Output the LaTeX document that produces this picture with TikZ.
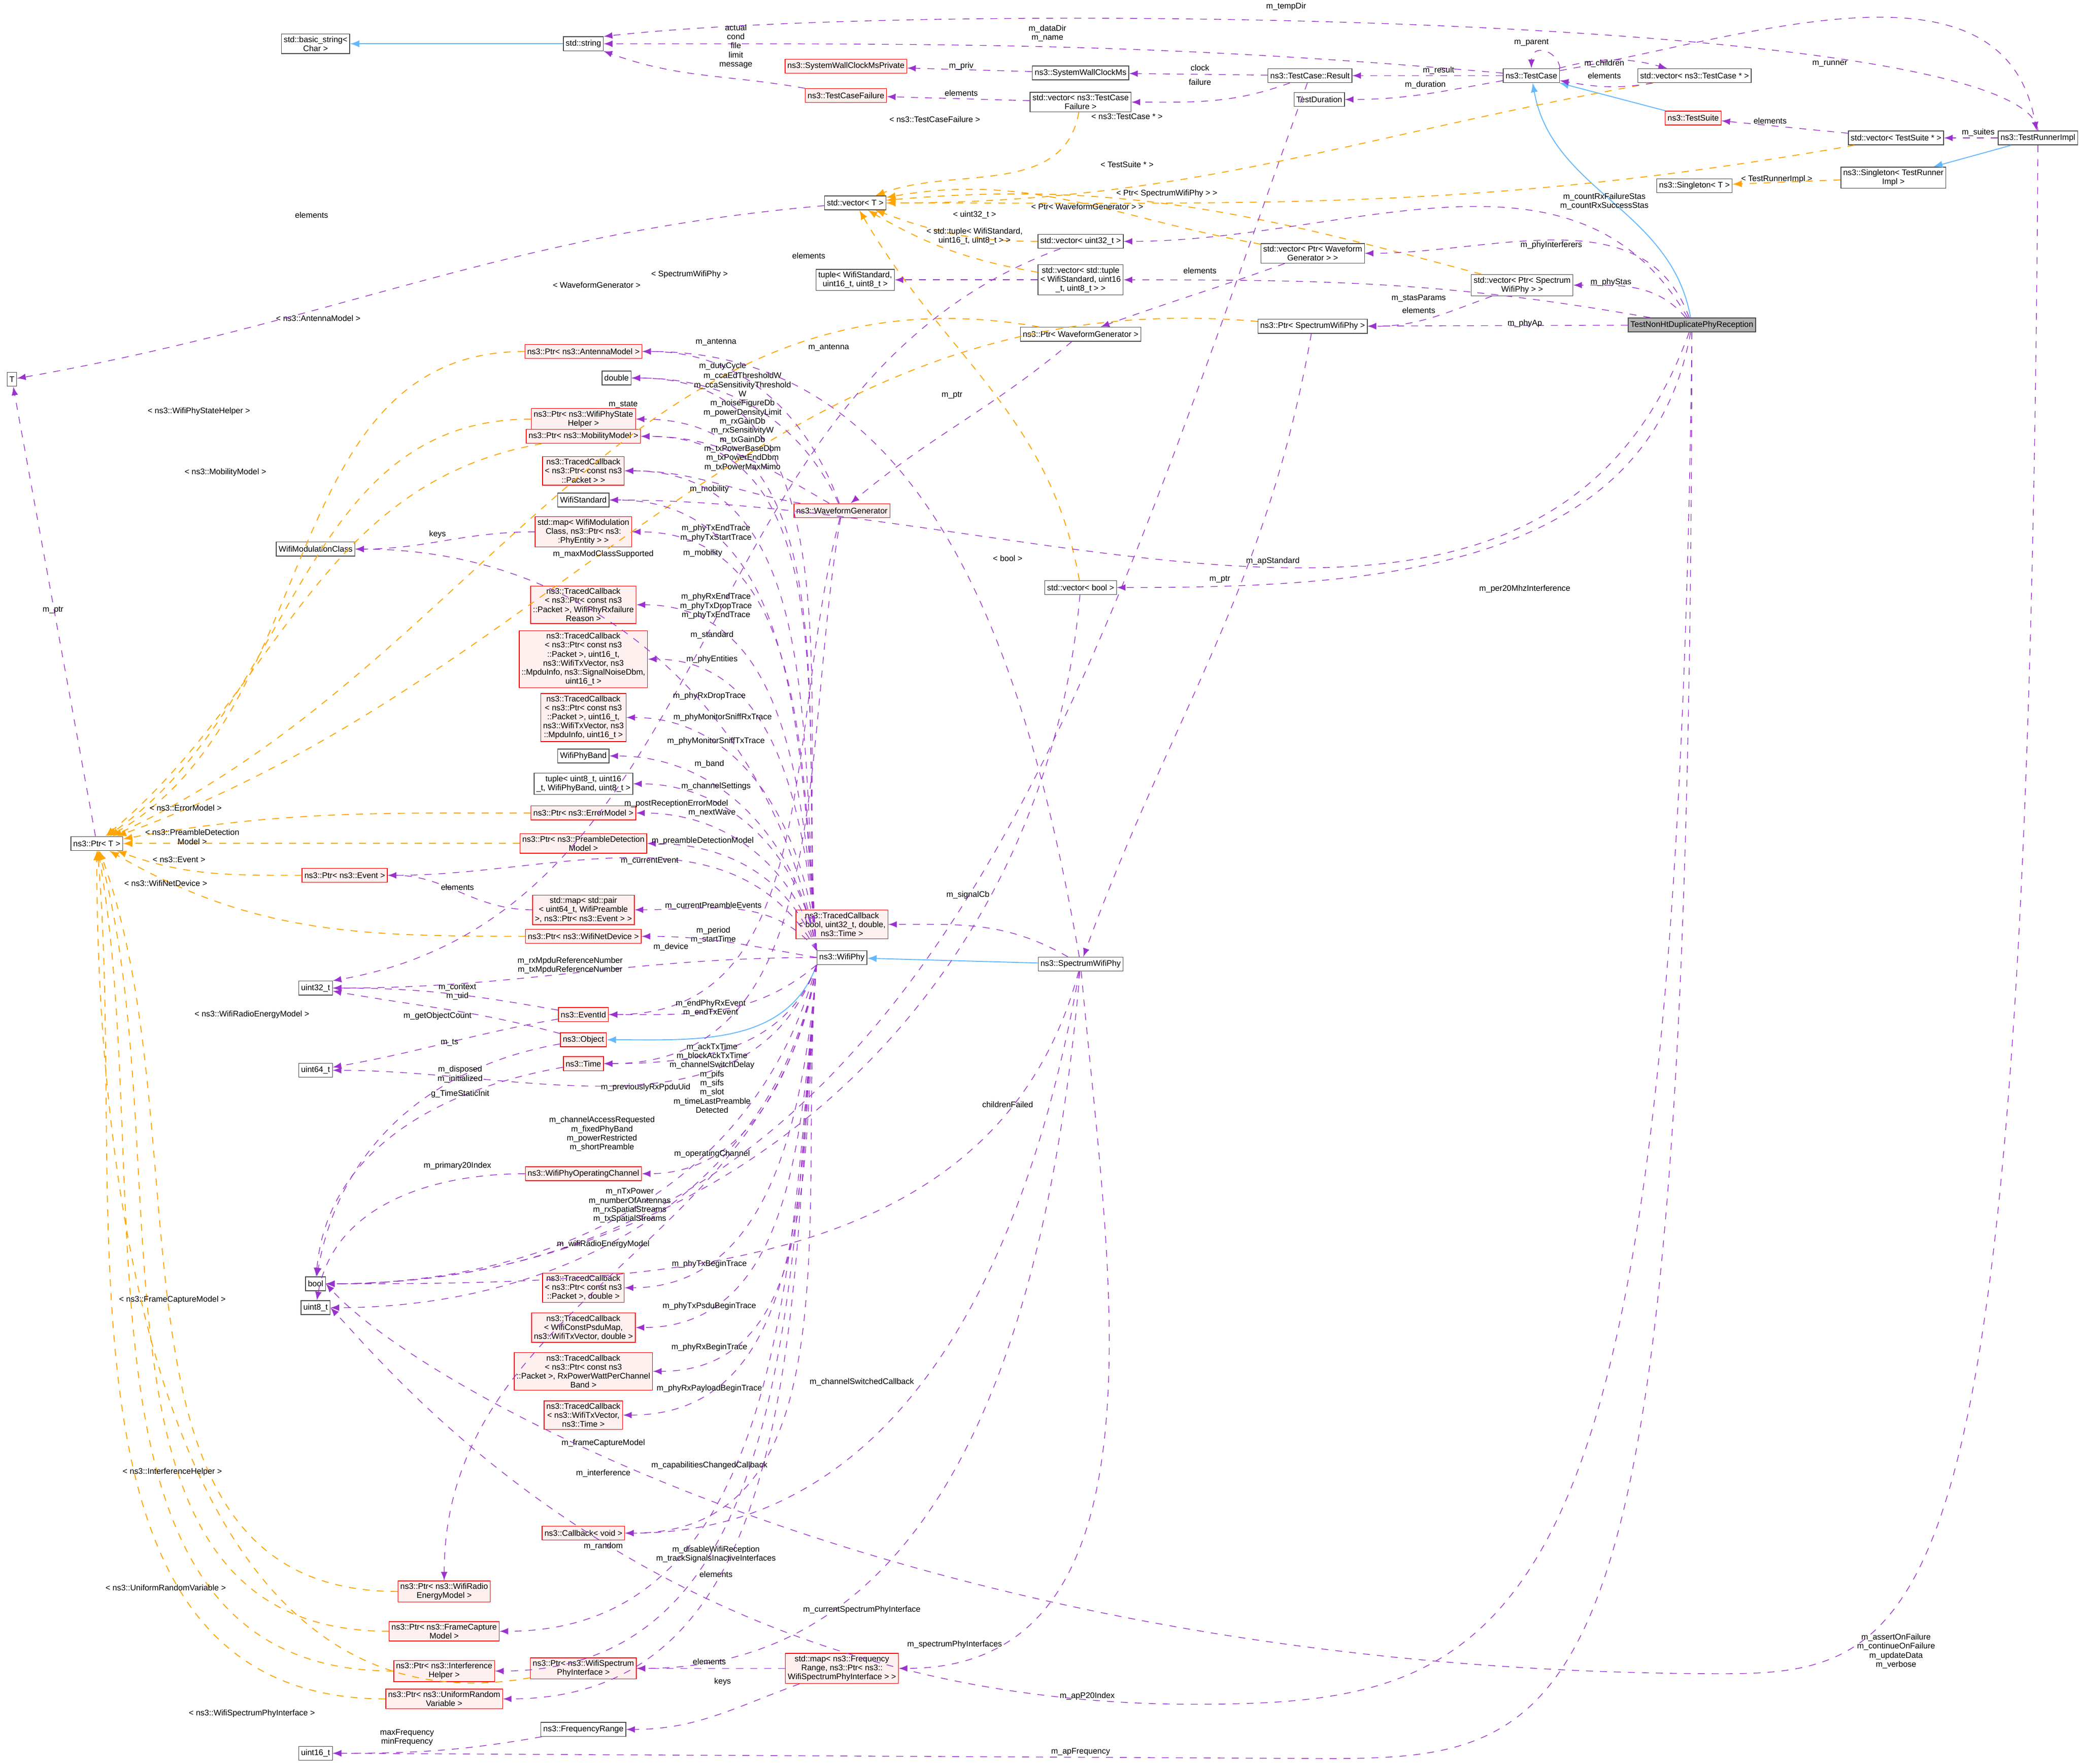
\documentclass[tikz,border=0pt]{standalone}
\usepackage{fontspec}
\setmainfont{Liberation Sans}
\usetikzlibrary{arrows,positioning}
\definecolor{memcol}{HTML}{9A32CD}
\definecolor{tplcol}{HTML}{FFA500}
\definecolor{inhcol}{HTML}{63B8FF}
\tikzset{
  cls/.style={draw=gray!60!black,fill=white,font=\fontsize{3.5}{3.85}\selectfont,align=center,inner sep=1pt,line width=0.3pt,minimum height=6pt},
  undoc/.style={cls,draw=red,fill=red!6},
  focus/.style={cls,fill=gray!60},
  mem/.style={->,dashed,memcol,line width=0.3pt},
  tpl/.style={->,dashed,tplcol,line width=0.4pt},
  inh/.style={->,inhcol,line width=0.4pt},
  lbl/.style={font=\fontsize{3.5}{3.9}\selectfont,align=center,text=black,inner sep=0.3pt}
}
\begin{document}
\begin{tikzpicture}[x=0.02cm,y=-0.02cm,>=latex]
\useasboundingbox[fill=white] (0,0) rectangle (1568,1330);
% test framework
\node[cls] (basicstr) at (238,33) {std::basic\_string<\\Char >};
\node[cls] (string) at (440,33) {std::string};
\node[cls] (T) at (9,286) {T};
\node[cls] (ptrT) at (73,636) {ns3::Ptr< T >};
\node[cls] (vectorT) at (645,153) {std::vector< T >};
\node[undoc] (syswallpriv) at (638,50) {ns3::SystemWallClockMsPrivate};
\node[cls] (syswall) at (815,55) {ns3::SystemWallClockMs};
\node[undoc] (tcfailure) at (638,72) {ns3::TestCaseFailure};
\node[cls] (vectcf) at (815,77) {std::vector< ns3::TestCase\\Failure >};
\node[cls] (result) at (988,57) {ns3::TestCase::Result};
\node[cls] (duration) at (995,75) {TestDuration};
\node[cls] (testcase) at (1155,57) {ns3::TestCase};
\node[cls] (vectcptr) at (1278,57) {std::vector< ns3::TestCase * >};
\node[undoc] (testsuite) at (1277,89) {ns3::TestSuite};
\node[cls] (vects) at (1430,104) {std::vector< TestSuite * >};
\node[cls] (runner) at (1537,104) {ns3::TestRunnerImpl};
\node[cls] (singletonT) at (1278,140) {ns3::Singleton< T >};
\node[cls] (singletonR) at (1428,134) {ns3::Singleton< TestRunner\\Impl >};
% test
\node[cls] (vecu32) at (815,182) {std::vector< uint32\_t >};
\node[cls] (vectuple) at (815,211) {std::vector< std::tuple\\< WifiStandard, uint16\\\_t, uint8\_t > >};
\node[cls] (tuplestd) at (645,211) {tuple< WifiStandard,\\uint16\_t, uint8\_t >};
\node[cls] (vecwg) at (990,191) {std::vector< Ptr< Waveform\\Generator > >};
\node[cls] (vecswp) at (1148,215) {std::vector< Ptr< Spectrum\\WifiPhy > >};
\node[cls] (ptrswp) at (990,246) {ns3::Ptr< SpectrumWifiPhy >};
\node[cls] (ptrwg) at (815,252) {ns3::Ptr< WaveformGenerator >};
\node[focus] (test) at (1276,245) {TestNonHtDuplicatePhyReception};
% wifi phy members
\node[undoc] (ptrantenna) at (440,265) {ns3::Ptr< ns3::AntennaModel >};
\node[cls] (double) at (465,285) {double};
\node[undoc] (ptrstate) at (440,316) {ns3::Ptr< ns3::WifiPhyState\\Helper >};
\node[undoc] (ptrmob) at (440,329) {ns3::Ptr< ns3::MobilityModel >};
\node[undoc] (tcbpkt) at (440,355) {ns3::TracedCallback\\< ns3::Ptr< const ns3\\::Packet > >};
\node[cls] (standard) at (440,377) {WifiStandard};
\node[undoc] (wavegen) at (635,385) {ns3::WaveformGenerator};
\node[undoc] (mapmod) at (440,401) {std::map< WifiModulation\\Class, ns3::Ptr< ns3:\\:PhyEntity > >};
\node[cls] (modclass) at (238,414) {WifiModulationClass};
\node[cls] (vecbool) at (815,443) {std::vector< bool >};
\node[undoc] (tcbfail) at (440,456) {ns3::TracedCallback\\< ns3::Ptr< const ns3\\::Packet >, WifiPhyRxfailure\\Reason >};
\node[undoc] (tcbrx) at (440,497) {ns3::TracedCallback\\< ns3::Ptr< const ns3\\::Packet >, uint16\_t,\\ns3::WifiTxVector, ns3\\::MpduInfo, ns3::SignalNoiseDbm,\\uint16\_t >};
\node[undoc] (tcbtx) at (440,541) {ns3::TracedCallback\\< ns3::Ptr< const ns3\\::Packet >, uint16\_t,\\ns3::WifiTxVector, ns3\\::MpduInfo, uint16\_t >};
\node[cls] (band) at (440,570) {WifiPhyBand};
\node[cls] (tuplech) at (440,591) {tuple< uint8\_t, uint16\\\_t, WifiPhyBand, uint8\_t >};
\node[undoc] (ptrerr) at (440,613) {ns3::Ptr< ns3::ErrorModel >};
\node[undoc] (ptrpre) at (440,636) {ns3::Ptr< ns3::PreambleDetection\\Model >};
\node[undoc] (ptrevent) at (260,660) {ns3::Ptr< ns3::Event >};
\node[undoc] (mappair) at (440,686) {std::map< std::pair\\< uint64\_t, WifiPreamble\\ >, ns3::Ptr< ns3::Event > >};
\node[undoc] (ptrdev) at (440,706) {ns3::Ptr< ns3::WifiNetDevice >};
\node[undoc] (tcbsig) at (635,697) {ns3::TracedCallback\\< bool, uint32\_t, double,\\ns3::Time >};
\node[cls] (wifiphy) at (635,722) {ns3::WifiPhy};
\node[cls] (spectrum) at (815,727) {ns3::SpectrumWifiPhy};
\node[cls] (uint32) at (238,745) {uint32\_t};
\node[undoc] (eventid) at (440,765) {ns3::EventId};
\node[undoc] (object) at (440,784) {ns3::Object};
\node[cls] (uint64) at (238,807) {uint64\_t};
\node[undoc] (time) at (440,802) {ns3::Time};
\node[undoc] (opchannel) at (440,885) {ns3::WifiPhyOperatingChannel};
\node[cls] (bool) at (238,968) {bool};
\node[cls] (uint8) at (238,986) {uint8\_t};
\node[undoc] (tcbtxbegin) at (440,971) {ns3::TracedCallback\\< ns3::Ptr< const ns3\\::Packet >, double >};
\node[undoc] (tcbpsdu) at (440,1001) {ns3::TracedCallback\\< WifiConstPsduMap,\\ns3::WifiTxVector, double >};
\node[undoc] (tcbrxbegin) at (440,1034) {ns3::TracedCallback\\< ns3::Ptr< const ns3\\::Packet >, RxPowerWattPerChannel\\Band >};
\node[undoc] (tcbpayload) at (440,1067) {ns3::TracedCallback\\< ns3::WifiTxVector,\\ns3::Time >};
\node[undoc] (callback) at (440,1156) {ns3::Callback< void >};
\node[undoc] (ptrenergy) at (335,1200) {ns3::Ptr< ns3::WifiRadio\\EnergyModel >};
\node[undoc] (ptrcapture) at (335,1230) {ns3::Ptr< ns3::FrameCapture\\Model >};
\node[undoc] (ptrinterf) at (335,1260) {ns3::Ptr< ns3::Interference\\Helper >};
\node[undoc] (ptrrandom) at (335,1281) {ns3::Ptr< ns3::UniformRandom\\Variable >};
\node[undoc] (ptrspi) at (440,1258) {ns3::Ptr< ns3::WifiSpectrum\\PhyInterface >};
\node[undoc] (mapfreq) at (635,1258) {std::map< ns3::Frequency\\Range, ns3::Ptr< ns3::\\WifiSpectrumPhyInterface > >};
\node[cls] (freqrange) at (440,1304) {ns3::FrequencyRange};
\node[cls] (uint16) at (238,1322) {uint16\_t};

% inheritance
\draw[inh] (string) -- (basicstr);
\draw[inh] (wifiphy.south west) to[out=250,in=0] (object);
\draw[inh] (spectrum) -- (wifiphy);
\draw[inh] (test) to[out=100,in=280] (testcase);
\draw[inh] (testsuite) -- (testcase);
\draw[inh] (runner) -- (singletonR);

% templates
\draw[tpl] (vectcptr) to[out=190,in=0] (vectorT);
\draw[tpl] (vects) to[out=190,in=0] (vectorT);
\draw[tpl] (singletonR) -- (singletonT);
\draw[tpl] (vectcf) to[out=260,in=20] (vectorT);
\draw[tpl] (vecu32) to[out=180,in=340] (vectorT);
\draw[tpl] (vectuple) to[out=170,in=330] (vectorT);
\draw[tpl] (vecwg) to[out=170,in=10] (vectorT);
\draw[tpl] (vecswp) to[out=165,in=5] (vectorT);
\draw[tpl] (vecbool) to[out=100,in=300] (vectorT);
\draw[tpl] (ptrswp) to[out=175,in=20] (ptrT);
\draw[tpl] (ptrwg) to[out=170,in=25] (ptrT);
\draw[tpl] (ptrantenna) to[out=180,in=30] (ptrT);
\draw[tpl] (ptrstate) to[out=180,in=35] (ptrT);
\draw[tpl] (ptrmob) to[out=190,in=40] (ptrT);
\draw[tpl] (ptrerr) to[out=180,in=10] (ptrT);
\draw[tpl] (ptrpre) to[out=180,in=0] (ptrT);
\draw[tpl] (ptrevent) to[out=180,in=340] (ptrT);
\draw[tpl] (ptrdev) to[out=180,in=330] (ptrT);
\draw[tpl] (ptrenergy) to[out=180,in=290] (ptrT);
\draw[tpl] (ptrcapture) to[out=180,in=285] (ptrT);
\draw[tpl] (ptrinterf) to[out=180,in=280] (ptrT);
\draw[tpl] (ptrrandom) to[out=180,in=275] (ptrT);
\draw[tpl] (ptrspi) to[out=190,in=270] (ptrT);
\node[lbl] at (850,88) {< ns3::TestCase * >};
\node[lbl] at (850,124) {< TestSuite * >};
\node[lbl] at (1340,135) {< TestRunnerImpl >};
\node[lbl] at (705,90) {< ns3::TestCaseFailure >};
\node[lbl] at (735,162) {< uint32\_t >};
\node[lbl] at (735,178) {< std::tuple< WifiStandard,\\uint16\_t, uint8\_t > >};
\node[lbl] at (820,156) {< Ptr< WaveformGenerator > >};
\node[lbl] at (880,146) {< Ptr< SpectrumWifiPhy > >};
\node[lbl] at (760,421) {< bool >};
\node[lbl] at (520,207) {< SpectrumWifiPhy >};
\node[lbl] at (450,215) {< WaveformGenerator >};
\node[lbl] at (240,240) {< ns3::AntennaModel >};
\node[lbl] at (150,310) {< ns3::WifiPhyStateHelper >};
\node[lbl] at (170,356) {< ns3::MobilityModel >};
\node[lbl] at (140,609) {< ns3::ErrorModel >};
\node[lbl] at (145,631) {< ns3::PreambleDetection\\Model >};
\node[lbl] at (135,648) {< ns3::Event >};
\node[lbl] at (125,666) {< ns3::WifiNetDevice >};
\node[lbl] at (190,765) {< ns3::WifiRadioEnergyModel >};
\node[lbl] at (130,980) {< ns3::FrameCaptureModel >};
\node[lbl] at (130,1110) {< ns3::InterferenceHelper >};
\node[lbl] at (125,1197) {< ns3::UniformRandomVariable >};
\node[lbl] at (190,1292) {< ns3::WifiSpectrumPhyInterface >};

% members of the test framework
\draw[mem] (vectorT) to[out=185,in=10] (T);
\draw[mem] (ptrT) -- (T);
\draw[mem] (tcfailure) to[out=170,in=340] (string);
\draw[mem] (testcase) to[out=175,in=0] (string);
\draw[mem] (runner.north) .. controls (1530,10) and (700,0) .. (string.north east);
\draw[mem] (syswall) -- (syswallpriv);
\draw[mem] (result) -- (syswall);
\draw[mem] (result) to[out=200,in=0] (vectcf);
\draw[mem] (vectcf) -- (tcfailure);
\draw[mem] (testcase) -- (result);
\draw[mem] (testcase) to[out=190,in=0] (duration);
\draw[mem] (testcase.north east) .. controls (1175,38) and (1155,32) .. (testcase.north);
\draw[mem] (testcase) to[out=15,in=165] (vectcptr);
\draw[mem] (vectcptr) to[out=190,in=350] (testcase);
\draw[mem] (testcase) to[out=10,in=100] (runner);
\draw[mem] (vects) -- (testsuite);
\draw[mem] (runner) -- (vects);
\draw[mem] (result) to[out=250,in=0] (bool);
\draw[mem] (runner.south) .. controls (1530,1220) and (1460,1262) .. (1300,1262) .. controls (700,1262) and (320,1050) .. (bool.east);
\node[lbl] at (970,5) {m\_tempDir};
\node[lbl] at (790,25) {m\_dataDir\\m\_name};
\node[lbl] at (1155,32) {m\_parent};
\node[lbl] at (1210,48) {m\_children};
\node[lbl] at (1210,57) {elements};
\node[lbl] at (1380,48) {m\_runner};
\node[lbl] at (1085,53) {m\_result};
\node[lbl] at (1075,64) {m\_duration};
\node[lbl] at (725,50) {m\_priv};
\node[lbl] at (905,51) {clock};
\node[lbl] at (905,62) {failure};
\node[lbl] at (725,70) {elements};
\node[lbl] at (555,35) {actual\\cond\\file\\limit\\message};
\node[lbl] at (1492,100) {m\_suites};
\node[lbl] at (1335,91) {elements};
\node[lbl] at (235,162) {elements};
\node[lbl] at (40,460) {m\_ptr};
\node[lbl] at (760,833) {childrenFailed};
\node[lbl] at (1430,1245) {m\_assertOnFailure\\m\_continueOnFailure\\m\_updateData\\m\_verbose};

% members of the test
\draw[mem] (vecu32) to[out=200,in=10] (uint32.north east);
\draw[mem] (vectuple) -- (tuplestd);
\draw[mem] (test) to[out=120,in=0] (vecu32);
\draw[mem] (test) to[out=110,in=0] (vecwg);
\draw[mem] (test) to[out=170,in=0] (vectuple);
\draw[mem] (test) to[out=130,in=0] (vecswp);
\draw[mem] (test) -- (ptrswp);
\draw[mem] (test) to[out=250,in=0] (standard);
\draw[mem] (test) to[out=260,in=0] (vecbool);
\draw[mem] (test.south) .. controls (1265,1240) and (1150,1285) .. (900,1285) .. controls (500,1285) and (300,1040) .. (uint8.east);
\draw[mem] (test.south) .. controls (1275,1300) and (1200,1326) .. (1000,1326) -- (uint16.east);
\draw[mem] (vecwg) to[out=200,in=20] (ptrwg);
\draw[mem] (vecswp) to[out=200,in=0] (ptrswp);
\draw[mem] (ptrswp) to[out=260,in=70] (spectrum);
\draw[mem] (ptrwg) to[out=220,in=40] (wavegen);
\draw[mem] (vecbool) to[out=265,in=0] (bool);
\node[lbl] at (610,193) {elements};
\node[lbl] at (1210,152) {m\_countRxFailureStas\\m\_countRxSuccessStas};
\node[lbl] at (1170,185) {m\_phyInterferers};
\node[lbl] at (1070,225) {m\_stasParams};
\node[lbl] at (1215,213) {m\_phyStas};
\node[lbl] at (1150,244) {m\_phyAp};
\node[lbl] at (960,423) {m\_apStandard};
\node[lbl] at (1150,444) {m\_per20MhzInterference};
\node[lbl] at (820,1279) {m\_apP20Index};
\node[lbl] at (815,1321) {m\_apFrequency};
\node[lbl] at (905,204) {elements};
\node[lbl] at (1070,234) {elements};
\node[lbl] at (920,437) {m\_ptr};
\node[lbl] at (718,298) {m\_ptr};
\node[lbl] at (540,1187) {elements};

% members of the waveform generator
\draw[mem] (wavegen) to[out=110,in=0] (ptrantenna);
\draw[mem] (wavegen) to[out=115,in=0] (double);
\draw[mem] (wavegen) to[out=150,in=0] (ptrmob);
\draw[mem] (wavegen) to[out=170,in=0] (tcbpkt);
\draw[mem] (wavegen) to[out=260,in=0] (time);
\draw[mem] (wavegen) to[out=255,in=0] (eventid);
\node[lbl] at (540,258) {m\_antenna};
\node[lbl] at (545,276) {m\_dutyCycle};
\node[lbl] at (535,369) {m\_mobility};
\node[lbl] at (540,402) {m\_phyTxEndTrace\\m\_phyTxStartTrace};
\node[lbl] at (538,705) {m\_period\\m\_startTime};
\node[lbl] at (537,613) {m\_nextWave};

% members of the wifi phy
\draw[mem] (wifiphy.north west) to[out=95,in=0] (double);
\draw[mem] (wifiphy.north west) to[out=95,in=0] (ptrstate);
\draw[mem] (wifiphy.north west) to[out=95,in=0] (ptrmob);
\draw[mem] (wifiphy.north west) to[out=95,in=0] (tcbpkt);
\draw[mem] (wifiphy.north west) to[out=95,in=0] (standard);
\draw[mem] (wifiphy.north west) to[out=95,in=0] (mapmod);
\draw[mem] (wifiphy.north west) to[out=95,in=0] (tcbfail);
\draw[mem] (wifiphy.north west) to[out=95,in=0] (tcbrx);
\draw[mem] (wifiphy.north west) to[out=95,in=0] (tcbtx);
\draw[mem] (wifiphy.north west) to[out=100,in=0] (modclass);
\draw[mem] (mapmod) to[out=180,in=0] (modclass);
\draw[mem] (wifiphy.north west) to[out=100,in=0] (band);
\draw[mem] (wifiphy.north west) to[out=100,in=0] (tuplech);
\draw[mem] (wifiphy.north west) to[out=105,in=0] (ptrerr);
\draw[mem] (wifiphy.north west) to[out=110,in=0] (ptrpre);
\draw[mem] (wifiphy.north west) to[out=120,in=0] (ptrevent);
\draw[mem] (wifiphy.north west) to[out=130,in=0] (mappair);
\draw[mem] (mappair) to[out=180,in=0] (ptrevent);
\draw[mem] (wifiphy.west) to[out=170,in=0] (ptrdev);
\draw[mem] (wifiphy.west) to[out=180,in=0] (uint32);
\draw[mem] (wifiphy.south west) to[out=220,in=0] (eventid);
\draw[mem] (wifiphy.south west) to[out=250,in=0] (time);
\draw[mem] (wifiphy.south west) to[out=250,in=0] (uint64);
\draw[mem] (wifiphy.south west) to[out=255,in=0] (bool);
\draw[mem] (wifiphy.south west) to[out=260,in=0] (opchannel);
\draw[mem] (wifiphy.south west) to[out=260,in=0] (uint8);
\draw[mem] (wifiphy.south west) to[out=262,in=90] (ptrenergy);
\draw[mem] (wifiphy.south west) to[out=265,in=0] (tcbtxbegin);
\draw[mem] (wifiphy.south west) to[out=265,in=0] (tcbpsdu);
\draw[mem] (wifiphy.south west) to[out=265,in=0] (tcbrxbegin);
\draw[mem] (wifiphy.south west) to[out=265,in=0] (tcbpayload);
\draw[mem] (wifiphy.south west) to[out=265,in=0] (ptrcapture);
\draw[mem] (wifiphy.south west) to[out=265,in=0] (callback);
\draw[mem] (wifiphy.south west) to[out=265,in=0] (ptrinterf);
\draw[mem] (wifiphy.south west) to[out=265,in=0] (ptrrandom);
\node[lbl] at (560,318) {m\_ccaEdThresholdW\\m\_ccaSensitivityThreshold\\W\\m\_noiseFigureDb\\m\_powerDensityLimit\\m\_rxGainDb\\m\_rxSensitivityW\\m\_txGainDb\\m\_txPowerBaseDbm\\m\_txPowerEndDbm\\m\_txPowerMaxMimo};
\node[lbl] at (470,305) {m\_state};
\node[lbl] at (530,417) {m\_mobility};
\node[lbl] at (455,418) {m\_maxModClassSupported};
\node[lbl] at (330,403) {keys};
\node[lbl] at (540,457) {m\_phyRxEndTrace\\m\_phyTxDropTrace\\m\_phyTxEndTrace};
\node[lbl] at (537,479) {m\_standard};
\node[lbl] at (537,497) {m\_phyEntities};
\node[lbl] at (535,525) {m\_phyRxDropTrace};
\node[lbl] at (545,541) {m\_phyMonitorSniffRxTrace};
\node[lbl] at (540,559) {m\_phyMonitorSniffTxTrace};
\node[lbl] at (535,576) {m\_band};
\node[lbl] at (540,593) {m\_channelSettings};
\node[lbl] at (510,606) {m\_postReceptionErrorModel};
\node[lbl] at (530,634) {m\_preambleDetectionModel};
\node[lbl] at (490,649) {m\_currentEvent};
\node[lbl] at (538,683) {m\_currentPreambleEvents};
\node[lbl] at (345,669) {elements};
\node[lbl] at (506,714) {m\_device};
\node[lbl] at (430,728) {m\_rxMpduReferenceNumber\\m\_txMpduReferenceNumber};
\node[lbl] at (536,760) {m\_endPhyRxEvent\\m\_endTxEvent};
\node[lbl] at (537,813) {m\_ackTxTime\\m\_blockAckTxTime\\m\_channelSwitchDelay\\m\_pifs\\m\_sifs\\m\_slot\\m\_timeLastPreamble\\Detected};
\node[lbl] at (487,820) {m\_previouslyRxPpduUid};
\node[lbl] at (454,855) {m\_channelAccessRequested\\m\_fixedPhyBand\\m\_powerRestricted\\m\_shortPreamble};
\node[lbl] at (537,870) {m\_operatingChannel};
\node[lbl] at (475,909) {m\_nTxPower\\m\_numberOfAntennas\\m\_rxSpatialStreams\\m\_txSpatialStreams};
\node[lbl] at (455,938) {m\_wifiRadioEnergyModel};
\node[lbl] at (535,953) {m\_phyTxBeginTrace};
\node[lbl] at (535,985) {m\_phyTxPsduBeginTrace};
\node[lbl] at (535,1016) {m\_phyRxBeginTrace};
\node[lbl] at (535,1047) {m\_phyRxPayloadBeginTrace};
\node[lbl] at (455,1088) {m\_frameCaptureModel};
\node[lbl] at (535,1105) {m\_capabilitiesChangedCallback};
\node[lbl] at (455,1111) {m\_interference};
\node[lbl] at (455,1166) {m\_random};

% members of base types
\draw[mem] (eventid) to[out=170,in=0] (uint32);
\draw[mem] (eventid) to[out=190,in=10] (uint64);
\draw[mem] (object) to[out=165,in=350] (uint32);
\draw[mem] (object) to[out=190,in=80] (bool);
\draw[mem] (time) to[out=190,in=85] (bool);
\draw[mem] (opchannel) to[out=180,in=80] (uint8);
\node[lbl] at (345,748) {m\_context\\m\_uid};
\node[lbl] at (330,766) {m\_getObjectCount};
\node[lbl] at (339,786) {m\_ts};
\node[lbl] at (347,810) {m\_disposed\\m\_initialized};
\node[lbl] at (347,825) {g\_TimeStaticInit};
\node[lbl] at (345,879) {m\_primary20Index};

% members of the spectrum phy
\draw[mem] (spectrum) to[out=150,in=0] (tcbsig);
\draw[mem] (spectrum) to[out=100,in=0] (ptrantenna);
\draw[mem] (spectrum) to[out=260,in=0] (callback);
\draw[mem] (spectrum) to[out=265,in=0] (ptrspi);
\draw[mem] (spectrum) to[out=275,in=0] (mapfreq);
\draw[mem] (spectrum) to[out=255,in=0] (bool);
\draw[mem] (mapfreq) -- (ptrspi);
\draw[mem] (mapfreq) to[out=200,in=0] (freqrange);
\draw[mem] (freqrange) to[out=190,in=0] (uint16);
\node[lbl] at (730,675) {m\_signalCb};
\node[lbl] at (625,262) {m\_antenna};
\node[lbl] at (650,1042) {m\_channelSwitchedCallback};
\node[lbl] at (650,1214) {m\_currentSpectrumPhyInterface};
\node[lbl] at (720,1240) {m\_spectrumPhyInterfaces};
\node[lbl] at (540,1172) {m\_disableWifiReception\\m\_trackSignalsInactiveInterfaces};
\node[lbl] at (535,1253) {elements};
\node[lbl] at (545,1268) {keys};
\node[lbl] at (307,1310) {maxFrequency\\minFrequency};
\end{tikzpicture}
\end{document}
